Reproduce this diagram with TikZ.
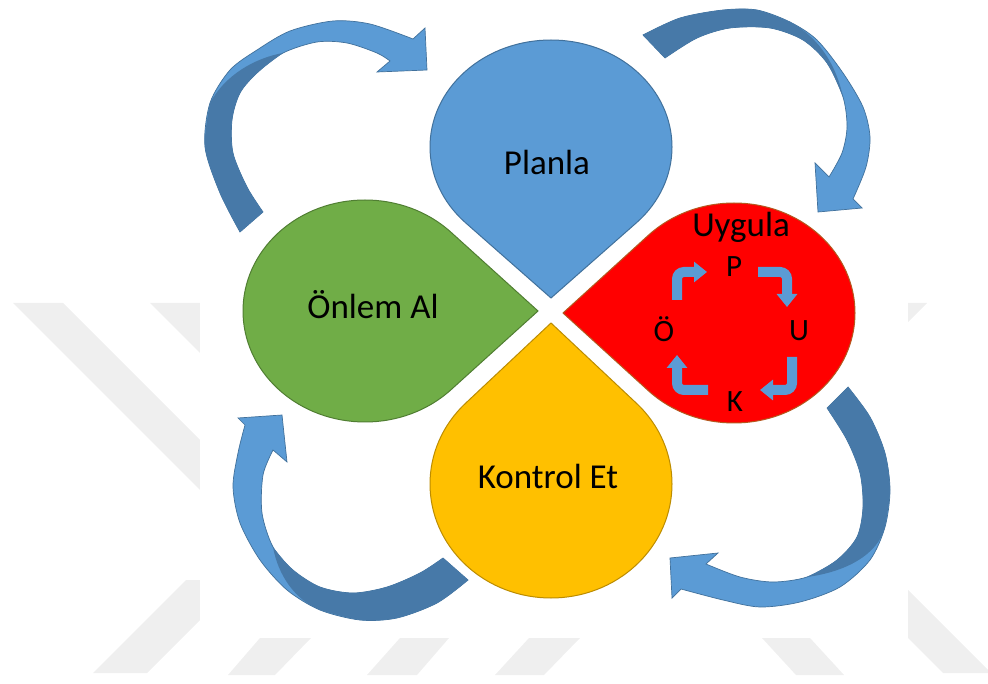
\documentclass[tikz,border=0pt]{standalone}
\usepackage{fontspec}
\setmainfont{Carlito}
\usetikzlibrary{arrows.meta,calc}

\definecolor{planblue}{HTML}{5B9BD5}
\definecolor{planedge}{HTML}{41719C}
\definecolor{actgreen}{HTML}{70AD47}
\definecolor{actedge}{HTML}{507E32}
\definecolor{chkyellow}{HTML}{FFC000}
\definecolor{chkedge}{HTML}{BC8C00}
\definecolor{dored}{HTML}{FF0000}
\definecolor{doedge}{HTML}{B4581E}
\definecolor{arwdark}{HTML}{4779A8}
\definecolor{wmgray}{HTML}{EFEFEF}

\tikzset{
  petal/.style={line width=1pt},
  arw/.style={fill=planblue,draw=planedge,line width=0.7pt},
  arwback/.style={fill=arwdark},
  lbl/.style={font=\fontsize{35}{42}\selectfont,inner sep=2pt},
  cyc/.style={font=\fontsize{31}{36}\selectfont,inner sep=2pt},
  bent/.style={draw=planblue,line width=10pt,rounded corners=7pt,-{Triangle[width=20pt,length=13pt]}},
  wm/.style={fill=wmgray},
}

\begin{document}
\begin{tikzpicture}[x=1pt,y=-1pt]
        \useasboundingbox (0,0) rectangle (988,684);
        % watermark
        \fill[wm] (13,303) -- (63,303) -- (250,490) -- (200,490) -- cycle;
        \fill[wm] (150,303) -- (200,303) -- (260,363) -- (210,363) -- cycle;
        \fill[wm] (93,673) -- (147,673) -- (240,580) -- (186,580) -- cycle;
        \fill[wm] (228,675) -- (275,675) -- (311,638) -- (260,638) -- cycle;
        \fill[wm] (367,675) -- (417,675) -- (449,638) -- (400,638) -- cycle;
        \fill[wm] (495,675) -- (544,675) -- (580,638) -- (529,638) -- cycle;
        \fill[wm] (796,675) -- (844,675) -- (810,638) -- (762,638) -- cycle;
        \fill[wm] (880,562) -- (991,673) -- (943,673) -- (880,610) -- cycle;
        \fill[wm] (880,303) -- (927,303) -- (880,350) -- cycle;
        \fill[white] (200,0) rectangle (908,638);

        % petals
        \filldraw[petal,fill=planblue,draw=planedge] (551,147) +(45:121 and 107)
				arc[start angle=45,end angle=-225,x radius=121,y radius=107] -- (551,298) -- cycle;
        \filldraw[petal,fill=actgreen,draw=actedge] (365,311) +(45:122 and 111)
				arc[start angle=45,end angle=315,x radius=122,y radius=111] -- (538,311) -- cycle;
        \filldraw[petal,fill=chkyellow,draw=chkedge] (551,484) +(-45:121 and 114)
				arc[start angle=-45,end angle=225,x radius=121,y radius=114] -- (551,323) -- cycle;
        \filldraw[petal,fill=dored,draw=doedge] (734,313) +(-135:121 and 110)
				arc[start angle=-135,end angle=135,x radius=121,y radius=110] -- (563,313) -- cycle;

        % curved arrows
        \filldraw[arw] plot[smooth] coordinates {(240,232) (220,193) (205,147) (210,103) (230,70) (257,50) (290,31) (333,21) (370,24) (413,39)}
				-- (425,28) -- (427,70) -- (377,72)
				-- plot[smooth] coordinates {(390,61) (377,53) (347,43) (317,42) (283,53) (257,73) (240,93) (232,120) (233,153) (247,187) (263,212)} -- cycle;
        \fill[arwback] plot[smooth] coordinates {(240,232) (220,193) (205,147) (210,103)}
				.. controls (225,75) and (255,58) .. (283,53)
				-- plot[smooth] coordinates {(283,53) (257,73) (240,93) (232,120) (233,153) (247,187) (263,212)} -- cycle;
        \filldraw[arw] plot[smooth] coordinates {(643,35) (680,18) (723,10) (757,10) (790,22) (817,40) (843,73) (863,107) (870,137) (866,167) (853,199)}
				-- (862,208) -- (818,212) -- (815,163)
				-- plot[smooth] coordinates {(829,177) (842,153) (847,127) (843,97) (827,63) (803,40) (770,28) (730,28) (697,38) (665,58)} -- cycle;
        \fill[arwback] plot[smooth] coordinates {(643,35) (680,18) (723,10) (757,10) (790,22)}
				.. controls (815,35) and (835,60) .. (843,97)
				-- plot[smooth] coordinates {(843,97) (827,63) (803,40) (770,28) (730,28) (697,38) (665,58)} -- cycle;
        \filldraw[arw] plot[smooth] coordinates {(848,387) (870,417) (885,453) (890,490) (885,527) (870,560) (840,587) (800,602) (760,607) (723,600) (681,589)}
				-- (672,598) -- (670,558) -- (718,553)
				-- plot[smooth] coordinates {(706,564) (740,577) (773,582) (807,577) (837,560) (857,537) (863,507) (860,473) (847,440) (827,408)} -- cycle;
        \fill[arwback] plot[smooth] coordinates {(848,387) (870,417) (885,453) (890,490) (885,527)}
				.. controls (878,555) and (845,572) .. (807,577)
				-- plot[smooth] coordinates {(807,577) (837,560) (857,537) (863,507) (860,473) (847,440) (827,408)} -- cycle;
        \filldraw[arw] plot[smooth] coordinates {(468,580) (437,603) (397,618) (360,620) (320,610) (287,590) (260,560) (240,523) (233,487) (238,453) (245,425)}
				-- (238,418) -- (282,415) -- (287,462)
				-- plot[smooth] coordinates {(273,450) (263,475) (262,513) (273,547) (293,570) (320,587) (353,593) (387,587) (420,573) (443,558)} -- cycle;
        \fill[arwback] plot[smooth] coordinates {(468,580) (437,603) (397,618) (360,620) (320,610)}
				.. controls (295,600) and (278,575) .. (273,547)
				-- plot[smooth] coordinates {(273,547) (293,570) (320,587) (353,593) (387,587) (420,573) (443,558)} -- cycle;

        % labels
        \node[lbl] (planla) at (547,162) {Planla};
        \node[lbl] (onlem) at (373,305) {Önlem Al};
        \node[lbl] (kontrol) at (548,476) {Kontrol Et};
        \node[cyc,font=\fontsize{35}{40}\selectfont] (uygula) at (741,227) {Uygula};
        \node[cyc] (p) at (734,267) {P};
        \node[cyc] (u) at (799,331) {U};
        \node[cyc] (k) at (735,402) {K};
        \node[cyc] (oe) at (664,329) {Ö};

        % inner cycle
        \draw[bent] ($(oe)+(13,-29)$) |- ($(p)+(-27,5)$);
        \draw[bent] ($(p)+(24,5)$) -| ($(u)+(-12,-24)$);
        \draw[bent] ($(u)+(-7,26)$) |- ($(k)+(25,-12)$);
        \draw[bent] ($(k)+(-27,-12)$) -| ($(oe)+(13,26)$);
\end{tikzpicture}
\end{document}
